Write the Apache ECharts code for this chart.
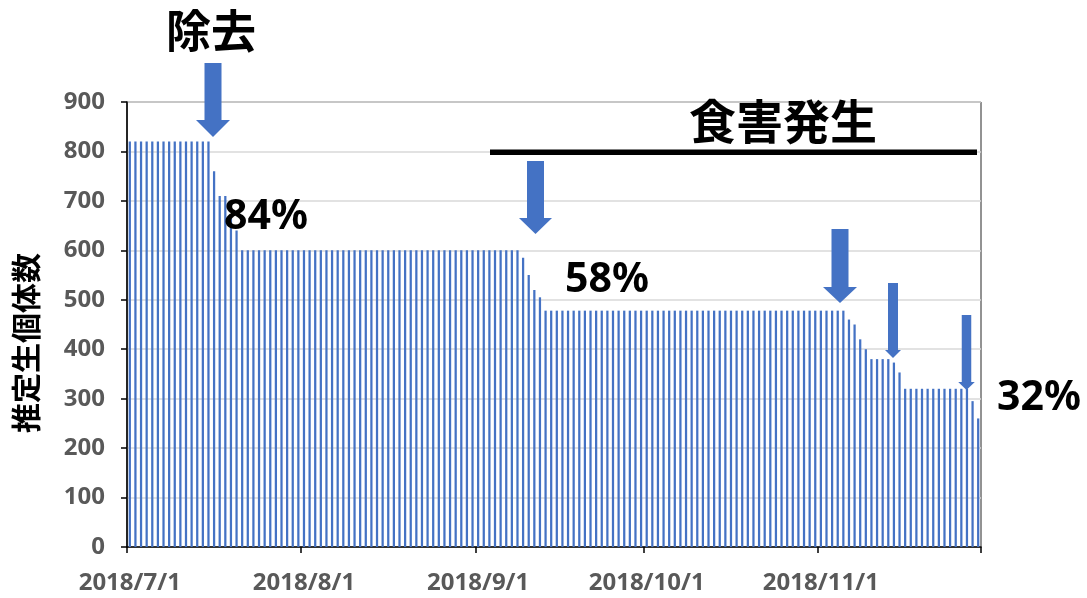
<!DOCTYPE html>
<html>
<head>
<meta charset="utf-8">
<script src="https://cdn.jsdelivr.net/npm/echarts@6/dist/echarts.min.js"></script>
<style>
html,body{margin:0;padding:0;background:#fff;}
#chart{width:1087px;height:598px;}
</style>
</head>
<body>
<div id="chart"></div>
<script>
// Month spans of the daily category axis (month, number of days shown)
var monthSpans = [[7, 31], [8, 31], [9, 30], [10, 31], [11, 29]];
var year = 2018;

// Estimated number of individuals per day
var julyValues = [820,820,820,820,820,820,820,820,820,820,820,820,820,820,820,760,710,710,670,640,600,600,600,600,600,600,600,600,600,600,600];
var augustValues = [600,600,600,600,600,600,600,600,600,600,600,600,600,600,600,600,600,600,600,600,600,600,600,600,600,600,600,600,600,600,600];
var septemberValues = [600,600,600,600,600,600,600,600,585,550,520,505,478,478,478,478,478,478,478,478,478,478,478,478,478,478,478,478,478,478];
var octoberValues = [478,478,478,478,478,478,478,478,478,478,478,478,478,478,478,478,478,478,478,478,478,478,478,478,478,478,478,478,478,478,478];
var novemberValues = [478,478,478,478,478,460,450,420,400,380,380,380,380,373,353,320,320,320,320,320,320,320,320,320,320,320,320,295,260];

var yTicks = [0,100,200,300,400,500,600,700,800,900];
var yTitle = '推定生個体数';
var annotations = { removal: '除去', damage: '食害発生', p1: '84%', p2: '58%', p3: '32%' };

var categories = [];
monthSpans.forEach(function (m) {
  for (var d = 1; d <= m[1]; d++) categories.push(year + '/' + m[0] + '/' + d);
});
var values = [].concat(julyValues, augustValues, septemberValues, octoberValues, novemberValues);
var firstOfMonth = function (idx) { return /\/1$/.test(categories[idx]); };

var BLUE = '#4472C4';
function arrow(cx, top, headBase, tip, shaftW, headW) {
  return {
    type: 'polygon',
    shape: { points: [
      [cx - shaftW / 2, top], [cx + shaftW / 2, top], [cx + shaftW / 2, headBase],
      [cx + headW / 2, headBase], [cx, tip], [cx - headW / 2, headBase], [cx - shaftW / 2, headBase]
    ] },
    style: { fill: BLUE },
    z: 100
  };
}
function label(text, x, y, font, color, rot) {
  return {
    type: 'text', x: x, y: y, rotation: rot || 0, z: 101,
    style: { text: text, font: font, fill: color || '#000', align: 'center', verticalAlign: 'middle' }
  };
}

var chart = echarts.init(document.getElementById('chart'));
chart.setOption({
  animation: false,
  backgroundColor: '#fff',
  grid: { left: 127, right: 106, top: 102, bottom: 51, show: true, borderColor: '#262626', borderWidth: 1, backgroundColor: 'transparent' },
  xAxis: {
    type: 'category',
    data: categories,
    boundaryGap: true,
    axisLine: { lineStyle: { color: '#000', width: 1.5 } },
    axisTick: { show: true, length: 6, interval: function (i) { return firstOfMonth(i); }, lineStyle: { color: '#000', width: 1.5 } },
    axisLabel: {
      interval: function (i) { return firstOfMonth(i); },
      color: '#595959', fontFamily: 'Noto Sans', fontWeight: 'bold', fontSize: 24, margin: 24
    },
    splitLine: { show: false }
  },
  yAxis: {
    type: 'value', min: yTicks[0], max: yTicks[yTicks.length - 1], interval: 100,
    axisLine: { show: true, lineStyle: { color: '#000', width: 1.5 } },
    axisTick: { show: true, length: 6, lineStyle: { color: '#000', width: 1.5 } },
    axisLabel: { color: '#595959', fontFamily: 'Noto Sans', fontWeight: 'bold', fontSize: 24, margin: 22 },
    splitLine: { lineStyle: { color: '#d9d9d9', width: 1.5 } }
  },
  series: [{
    type: 'bar',
    data: values,
    barWidth: '40%',
    itemStyle: { color: BLUE },
    z: 2
  }],
  graphic: [
    { type: 'rect', shape: { x: 490, y: 149.5, width: 487, height: 5.5 }, style: { fill: '#000' }, z: 100 },
    arrow(213, 63, 120, 137, 17, 34),
    arrow(535.5, 161, 218, 234, 17, 33),
    arrow(840, 229, 287, 303, 17, 34),
    arrow(893, 283, 350, 358, 10, 16),
    arrow(966.5, 315, 382, 390, 9.5, 16.5),
    label(annotations.removal, 211, 31, 'bold 45px "Noto Sans CJK JP"'),
    label(annotations.damage, 783, 121, 'bold 47px "Noto Sans CJK JP"'),
    label(annotations.p1, 266, 217, 'bold 41px "Noto Sans"'),
    label(annotations.p2, 607, 280, 'bold 41px "Noto Sans"'),
    label(annotations.p3, 1039, 398, 'bold 41px "Noto Sans"'),
    label(yTitle, 26, 343, 'bold 30px "Noto Sans CJK JP"', '#000', Math.PI / 2)
  ]
});
</script>
</body>
</html>
